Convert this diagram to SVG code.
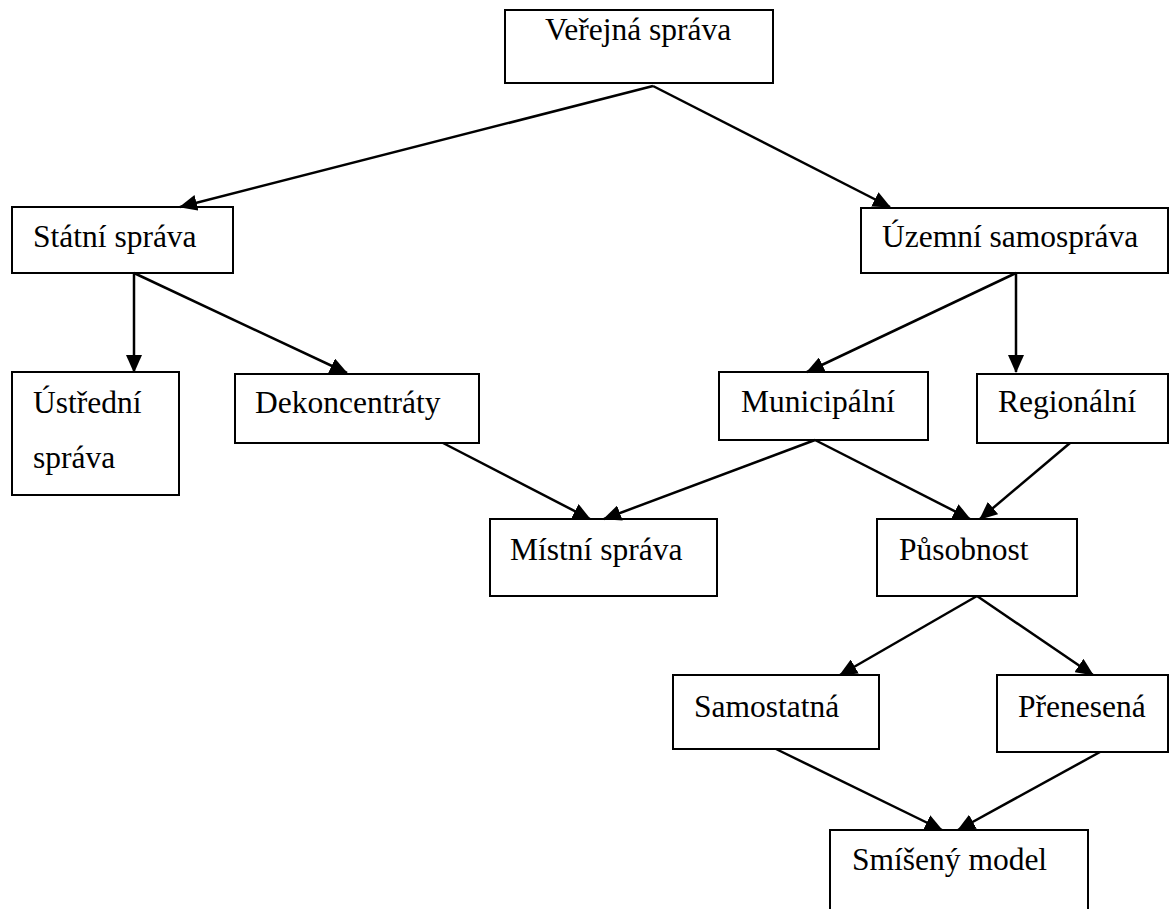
<svg xmlns="http://www.w3.org/2000/svg" width="1170" height="909" viewBox="0 0 1170 909">
<style>
rect,.open{fill:#fff;stroke:#000;stroke-width:2}
text{font-family:"Liberation Serif","Times New Roman",serif;font-size:31.5px;fill:#000}
.c line{stroke:#000;stroke-width:2.5;marker-end:url(#ah)}
</style>
<defs>
<marker id="ah" markerUnits="userSpaceOnUse" markerWidth="18" markerHeight="16" viewBox="0 0 18 16" refX="17" refY="8" orient="auto">
<path d="M0,0 L18,8 L0,16 z" fill="#000"/>
</marker>
</defs>
<g id="n-verejna"><rect x="505" y="10" width="268" height="73"/><text x="545" y="40">Veřejná správa</text></g>
<g id="n-statni"><rect x="12" y="207" width="221" height="66"/><text x="33" y="247">Státní správa</text></g>
<g id="n-uzemni"><rect x="861" y="208" width="307" height="65"/><text x="882" y="247">Územní samospráva</text></g>
<g id="n-ustredni"><rect x="12" y="372" width="167" height="123"/><text x="33" y="413">Ústřední</text><text x="33" y="468">správa</text></g>
<g id="n-dekoncentraty"><rect x="235" y="374" width="244" height="69"/><text x="255" y="413">Dekoncentráty</text></g>
<g id="n-municipalni"><rect x="719" y="372" width="209" height="68"/><text x="741" y="412">Municipální</text></g>
<g id="n-regionalni"><rect x="977" y="374" width="191" height="69"/><text x="998" y="412">Regionální</text></g>
<g id="n-mistni"><rect x="490" y="519" width="227" height="77"/><text x="510" y="560">Místní správa</text></g>
<g id="n-pusobnost"><rect x="877" y="519" width="200" height="77"/><text x="899" y="560">Působnost</text></g>
<g id="n-samostatna"><rect x="673" y="675" width="206" height="74"/><text x="694" y="717">Samostatná</text></g>
<g id="n-prenesena"><rect x="997" y="675" width="171" height="77"/><text x="1018" y="717">Přenesená</text></g>
<g id="n-smiseny"><path class="open" d="M830,912 V830 H1088 V912"/><text x="852" y="870">Smíšený model</text></g>
<g id="connectors" class="c">
<line x1="653" y1="86" x2="180" y2="207"/>
<line x1="653" y1="86" x2="890" y2="207"/>
<line x1="134" y1="273" x2="134" y2="372"/>
<line x1="134" y1="273" x2="347" y2="373"/>
<line x1="1016" y1="273" x2="807" y2="372"/>
<line x1="1016" y1="273" x2="1016" y2="372"/>
<line x1="443" y1="443" x2="590" y2="519"/>
<line x1="815" y1="440" x2="604" y2="519"/>
<line x1="815" y1="440" x2="970" y2="519"/>
<line x1="1070" y1="443" x2="980" y2="519"/>
<line x1="977" y1="596" x2="840" y2="675"/>
<line x1="977" y1="596" x2="1093" y2="675"/>
<line x1="776" y1="749" x2="942" y2="830"/>
<line x1="1100" y1="752" x2="958" y2="830"/>
</g>
</svg>
